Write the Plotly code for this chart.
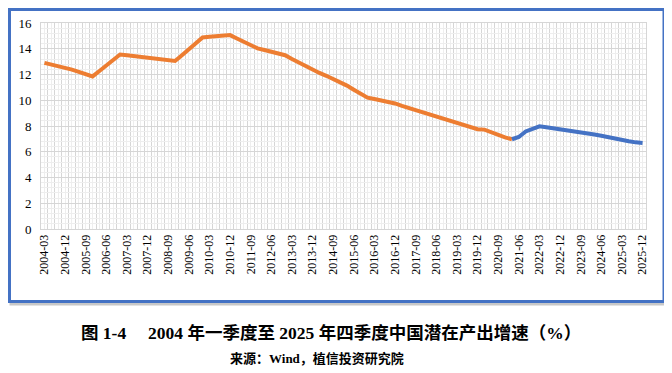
import plotly.graph_objects as go

# Quarterly categories 2004-03 .. 2025-12
quarters = [f"{y}-{m:02d}" for y in range(2004, 2026) for m in (3, 6, 9, 12)]

# Historical potential output growth (orange), 2004-03 .. 2021-03
hist_values = [
    12.90, 12.78, 12.66, 12.55, 12.38, 12.20, 12.03, 11.85,
    12.27, 12.70, 13.12, 13.55, 13.49, 13.43, 13.37, 13.31,
    13.24, 13.18, 13.12, 13.05, 13.50, 13.96, 14.42, 14.88,
    14.93, 14.97, 15.01, 15.06, 14.80, 14.55, 14.29, 14.03,
    13.90, 13.77, 13.64, 13.50, 13.21, 12.92, 12.64, 12.35,
    12.12, 11.90, 11.67, 11.45, 11.14, 10.82, 10.51, 10.20,
    10.10, 10.00, 9.88, 9.75, 9.57, 9.40, 9.23, 9.06,
    8.89, 8.72, 8.56, 8.40, 8.24, 8.07, 7.91, 7.75,
    7.72, 7.50, 7.30, 7.12, 6.97,
]
# Projection (blue), 2021-03 .. 2025-12
proj_values = [
    6.97, 7.15, 7.58, 7.80, 7.98, 7.90, 7.83, 7.75,
    7.67, 7.59, 7.51, 7.43, 7.34, 7.24, 7.12, 6.99,
    6.92, 6.82, 6.73, 6.68,
]
label_every = 3

title_text = "图 1-4\u3000 2004 年一季度至 2025 年四季度中国潜在产出增速（%）"
source_text = "来源：Wind，植信投资研究院"

n = len(quarters)
x_all = list(range(n))
hist_x = x_all[:len(hist_values)]
proj_x = x_all[n - len(proj_values):]
ticktext = [q if i % label_every == 0 else "" for i, q in enumerate(quarters)]

fig = go.Figure()
fig.add_trace(go.Scatter(x=hist_x, y=hist_values, mode="lines",
                         line=dict(color="#ED7D31", width=4), showlegend=False))
fig.add_trace(go.Scatter(x=proj_x, y=proj_values, mode="lines",
                         line=dict(color="#4472C4", width=4), showlegend=False))

serif = "Liberation Serif, Times New Roman, serif"
cjk = "Liberation Serif, Noto Sans CJK SC, serif"

# page body has an 8px margin: figure origin is at screen (8, 8)
PW, PH = 605, 206          # plot area size
PX0, PY1 = 41 - 8, 229 - 8  # plot left / bottom in figure coords


def px(sx):
    return (sx - 8 - PX0) / PW


def py(sy):
    return (PY1 - (sy - 8)) / PH


fig.update_layout(
    width=664, height=365,
    margin=dict(l=PX0, r=664 - PX0 - PW, t=PY1 - PH, b=365 - PY1, autoexpand=False),
    paper_bgcolor="white", plot_bgcolor="white",
    xaxis=dict(
        range=[-0.5, n - 0.5],
        tickmode="array", tickvals=x_all, ticktext=ticktext,
        tickangle=-90, ticks="",
        tickfont=dict(family=serif, size=12, color="black"),
        showgrid=True, gridcolor="#eeeeee", gridwidth=1,
        minor=dict(tick0=-0.5, dtick=1, showgrid=True, gridcolor="#d6d6d6", gridwidth=1),
        showline=True, linecolor="#d6d6d6", linewidth=1, mirror=True,
        zeroline=False, fixedrange=True,
    ),
    yaxis=dict(
        range=[0, 16], dtick=2, tick0=0,
        tickfont=dict(family=serif, size=13, color="black"),
        showgrid=True, gridcolor="#d6d6d6", gridwidth=1,
        minor=dict(dtick=0.4, tick0=0, showgrid=True, gridcolor="#eeeeee", gridwidth=1),
        showline=True, linecolor="#d6d6d6", linewidth=1, mirror=True,
        zeroline=False, ticks="", ticklabelstandoff=6,
    ),
    shapes=[
        dict(type="rect", xref="paper", yref="paper",
             x0=px(11), x1=px(667),
             y0=py(304), y1=py(11),
             line=dict(color="#c8c8c8", width=3), layer="below"),
        dict(type="rect", xref="paper", yref="paper",
             x0=px(9.5), x1=px(664),
             y0=py(301.5), y1=py(9.5),
             line=dict(color="#4472C4", width=3), fillcolor="white", layer="below"),
    ],
    annotations=[
        dict(text="<b>" + title_text + "</b>", xref="paper", yref="paper",
             x=px(331), y=py(333), xanchor="center", yanchor="middle",
             showarrow=False, font=dict(family=cjk, size=17.5, color="black")),
        dict(text="<b>" + source_text + "</b>", xref="paper", yref="paper",
             x=px(317), y=py(358), xanchor="center", yanchor="middle",
             showarrow=False, font=dict(family=cjk, size=13, color="black")),
    ],
)

fig.write_html("out.html")
